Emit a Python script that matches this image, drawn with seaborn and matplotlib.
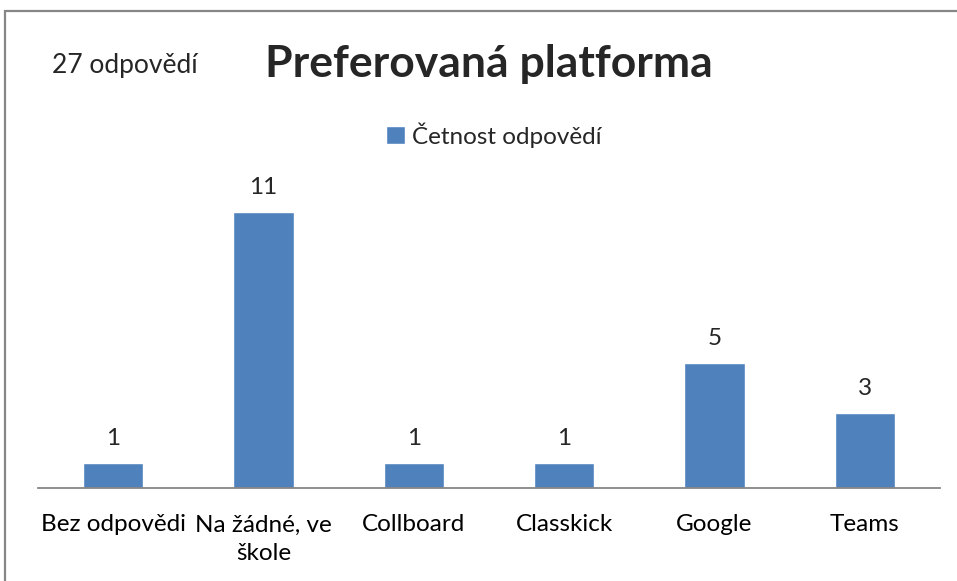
import matplotlib
matplotlib.use('Agg')
import matplotlib.pyplot as plt
import seaborn as sns
import pandas as pd
from matplotlib.patches import Rectangle

# Data
categories = ['Bez odpovědi', 'Na žádné, ve škole', 'Collboard', 'Classkick', 'Google', 'Teams']
tick_labels = ['Bez odpovědi', 'Na žádné, ve\nškole', 'Collboard', 'Classkick', 'Google', 'Teams']
counts = [1, 11, 1, 1, 5, 3]
series_name = 'Četnost odpovědí'
title = 'Preferovaná platforma'
note = '27 odpovědí'

df = pd.DataFrame({'Platforma': categories, series_name: counts})

sns.set_style('white')
plt.rcParams['font.family'] = ['Lato', 'DejaVu Sans']

W, H = 957, 581
fig = plt.figure(figsize=(W / 100, H / 100), dpi=100)
fig.patch.set_facecolor('white')

# axes: baseline at y=488px, x from 38 to 940 px
ax = fig.add_axes([38 / W, (H - 488) / H, (940 - 38) / W, 301 / H])

bar_color = '#4F81BD'
sns.barplot(data=df, x='Platforma', y=series_name, color=bar_color, width=0.4,
            ax=ax, label=series_name, saturation=1)

fs = 17.5
ax.set_xlim(-0.5, 5.5)
ax.set_ylim(0, 12)
ax.set_xlabel('')
ax.set_ylabel('')
ax.set_yticks([])
ax.set_xticks(range(len(tick_labels)))
ax.set_xticklabels(tick_labels, fontsize=fs, linespacing=1.45, color='black')
ax.tick_params(axis='x', length=0, pad=19)

for s in ['top', 'right', 'left']:
    ax.spines[s].set_visible(False)
ax.spines['bottom'].set_color('#868686')
ax.spines['bottom'].set_linewidth(1.3)

# value labels
for c in ax.containers:
    ax.bar_label(c, labels=[str(v) for v in counts], padding=10, fontsize=fs)

# legend
leg = ax.legend(loc='center', bbox_to_anchor=(494 / W, (H - 135) / H),
                bbox_transform=fig.transFigure, frameon=False, fontsize=fs,
                handlelength=0.75, handleheight=0.75, handletextpad=0.3)

# title and note
fig.text(489 / W, (H - 64) / H, title, ha='center', va='center',
         fontsize=32, fontweight='bold')
fig.text(125 / W, (H - 65) / H, note, ha='center', va='center', fontsize=19)

# outer chart border (cropped on right/bottom)
fig.patches.append(Rectangle((5 / W, -0.1), 1.2, (H - 11) / H + 0.1,
                             transform=fig.transFigure, fill=False,
                             edgecolor='#868686', linewidth=1.6, zorder=10))

fig.savefig('out.png', dpi=100)
